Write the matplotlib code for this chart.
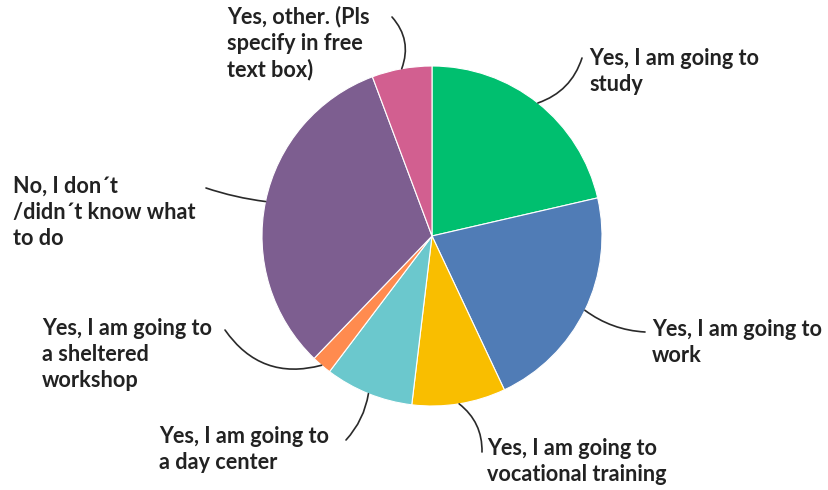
import numpy as np
import matplotlib
matplotlib.use("Agg")
import matplotlib.pyplot as plt

W, H = 829, 490

labels = [
    "Yes, I am going to\nstudy",
    "Yes, I am going to\nwork",
    "Yes, I am going to\nvocational training",
    "Yes, I am going to\na day center",
    "Yes, I am going to\na sheltered\nworkshop",
    "No, I don´t\n/didn´t know what\nto do",
    "Yes, other. (Pls\nspecify in free\ntext box)",
]
shares = [21.4, 21.6, 8.9, 8.4, 1.9, 32.1, 5.7]
colors = ["#00bf6f", "#507cb6", "#f9be00", "#6bc8cd", "#ff8b4f", "#7d5e90", "#d25f90"]

# label placement in pixel space: (left x, first-line centre y, arc rad)
label_pos = [
    (590, 62, -0.25),
    (653, 333, -0.15),
    (488, 452, 0.25),
    (160, 440, 0.15),
    (43, 332, 0.35),
    (14, 190, 0.05),
    (228, 20, -0.3),
]
leader_end = [
    (582, 58),
    (645, 332),
    (482, 452),
    (346, 440),
    (225, 330),
    (206, 188),
    (392, 17),
]

cx, cy, r = 432, 236, 170


def px(x, y):
    return x, H - y


fig = plt.figure(figsize=(W / 100, H / 100), dpi=100)
ax = fig.add_axes([0, 0, 1, 1])

wedges, _ = ax.pie(
    shares,
    colors=colors,
    startangle=90,
    counterclock=False,
    center=px(cx, cy),
    radius=r,
    wedgeprops=dict(edgecolor="white", linewidth=0.8),
    frame=True,
)
ax.set_xlim(0, W)
ax.set_ylim(0, H)
ax.set_aspect("equal")
ax.axis("off")

for w, lab, (tx, ty, rad), (ex, ey) in zip(wedges, labels, label_pos, leader_end):
    mid = np.deg2rad((w.theta1 + w.theta2) / 2)
    attach = (w.center[0] + r * np.cos(mid), w.center[1] + r * np.sin(mid))
    ax.annotate(
        "",
        xy=attach,
        xytext=px(ex, ey),
        arrowprops=dict(arrowstyle="-", color="#2a2a2a", lw=1.2,
                        connectionstyle=f"arc3,rad={rad}",
                        shrinkA=0, shrinkB=0),
    )
    ax.text(*px(tx - 1, ty - 14), lab, ha="left", va="top", fontsize=15.6,
            family="Lato", fontweight="bold", color="#222222", linespacing=1.3)

fig.savefig("out.png", dpi=100)
